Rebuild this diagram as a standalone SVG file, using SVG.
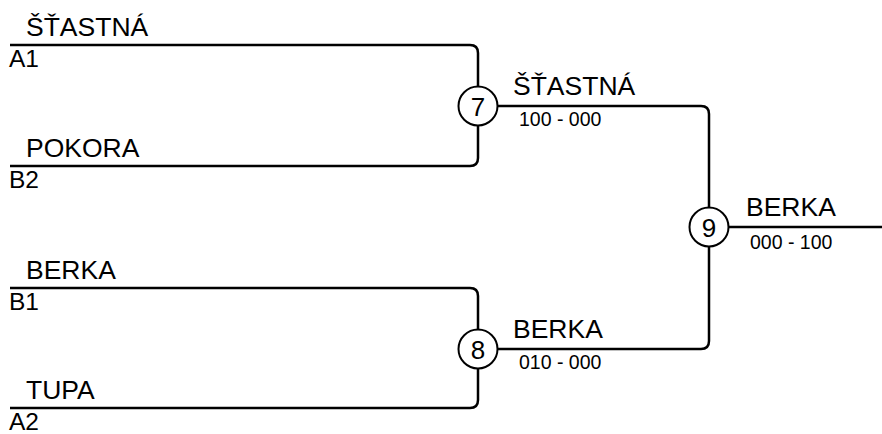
<svg xmlns="http://www.w3.org/2000/svg" width="882" height="434" viewBox="0 0 882 434">
<style>
.ln{fill:none;stroke:#000;stroke-width:2.5}
.c{fill:#fff;stroke:#000;stroke-width:2}
.nm{font-family:"Liberation Sans",Arial,sans-serif;font-size:26.5px;fill:#000}
.sd{font-family:"Liberation Sans",Arial,sans-serif;font-size:24.5px;fill:#000}
.sc{font-family:"Liberation Sans",Arial,sans-serif;font-size:19.5px;fill:#000}
.num{font-family:"Liberation Sans",Arial,sans-serif;font-size:26px;fill:#000;text-anchor:middle}
</style>
<rect width="882" height="434" fill="#fff"/>
<g id="connectors">
<path class="ln" d="M10,45 H470 Q478,45 478,53 V87"/>
<path class="ln" d="M10,166 H470 Q478,166 478,158 V125"/>
<path class="ln" d="M10,288 H470 Q478,288 478,296 V330"/>
<path class="ln" d="M10,408 H470 Q478,408 478,400 V368"/>
<path class="ln" d="M497,106 H701 Q709,106 709,114 V208"/>
<path class="ln" d="M497,349 H701 Q709,349 709,341 V246"/>
<path class="ln" d="M728,227 H882"/>
</g>
<g id="slot-a1">
<text class="nm" x="26" y="36">ŠŤASTNÁ</text>
<text class="sd" x="9" y="67">A1</text>
</g>
<g id="slot-b2">
<text class="nm" x="26" y="157">POKORA</text>
<text class="sd" x="9" y="188">B2</text>
</g>
<g id="slot-b1">
<text class="nm" x="26" y="279">BERKA</text>
<text class="sd" x="9" y="310">B1</text>
</g>
<g id="slot-a2">
<text class="nm" x="26" y="399">TUPA</text>
<text class="sd" x="9" y="430">A2</text>
</g>
<g id="match-7">
<circle class="c" cx="478" cy="106" r="19.5"/>
<text class="num" x="478" y="115.5">7</text>
<text class="nm" x="513" y="95">ŠŤASTNÁ</text>
<text class="sc" x="519" y="126">100 - 000</text>
</g>
<g id="match-8">
<circle class="c" cx="478" cy="349" r="19.5"/>
<text class="num" x="478" y="358.5">8</text>
<text class="nm" x="513" y="338">BERKA</text>
<text class="sc" x="519" y="369">010 - 000</text>
</g>
<g id="match-9">
<circle class="c" cx="709" cy="227" r="19.5"/>
<text class="num" x="709" y="236.5">9</text>
<text class="nm" x="746" y="216">BERKA</text>
<text class="sc" x="750" y="249">000 - 100</text>
</g>
</svg>
